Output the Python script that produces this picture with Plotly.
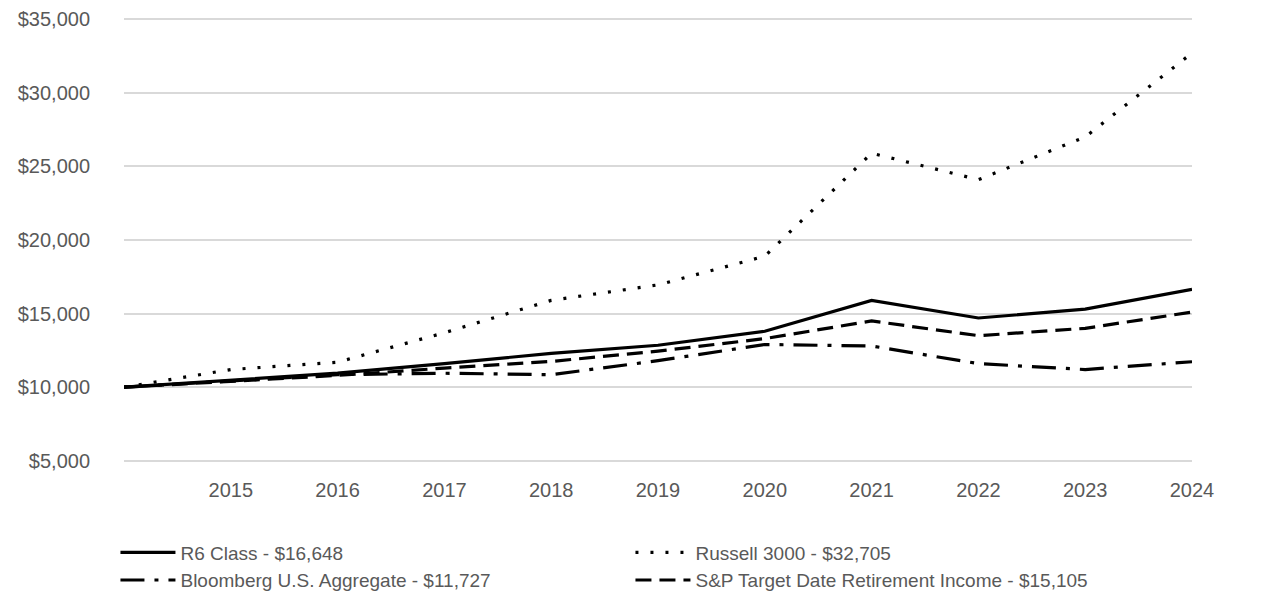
import plotly.graph_objects as go

years = [2014, 2015, 2016, 2017, 2018, 2019, 2020, 2021, 2022, 2023, 2024]
r6_class = [10000, 10450, 10950, 11600, 12300, 12850, 13800, 15900, 14700, 15300, 16648]
russell_3000 = [10000, 11200, 11700, 13700, 15900, 16950, 18900, 25900, 24100, 27000, 32705]
bloomberg_agg = [10000, 10450, 10850, 10950, 10850, 11800, 12900, 12800, 11600, 11200, 11727]
sp_target = [10000, 10400, 10800, 11300, 11750, 12450, 13300, 14500, 13500, 14000, 15105]

names = [
    "R6 Class - $16,648",
    "Russell 3000 - $32,705",
    "Bloomberg U.S. Aggregate - $11,727",
    "S&P Target Date Retirement Income - $15,105",
]
tick_years = [2015, 2016, 2017, 2018, 2019, 2020, 2021, 2022, 2023, 2024]
y_ticks = [5000, 10000, 15000, 20000, 25000, 30000, 35000]

FONT = "Liberation Sans, Arial, sans-serif"
GRAY = "#595959"

series = [
    (r6_class, "solid"),
    (russell_3000, "3px,12px"),
    (bloomberg_agg, "24px,10px,4px,10px"),
    (sp_target, "16px,8px"),
]

fig = go.Figure()
for (vals, dash), name in zip(series, names):
    fig.add_trace(go.Scatter(
        x=years, y=vals, mode="lines", name=name,
        line=dict(color="#000000", width=3.2, dash=dash),
        hoverinfo="skip", cliponaxis=False,
    ))

fig.update_layout(
    width=1286, height=614,
    margin=dict(l=116, r=102, t=9, b=159),
    paper_bgcolor="white", plot_bgcolor="white",
    font=dict(family=FONT, size=20, color=GRAY),
    showlegend=True,
    legend=dict(
        orientation="h", x=-0.008, xanchor="left", y=-0.158, yanchor="top",
        entrywidth=445, entrywidthmode="pixels", itemwidth=55,
        font=dict(family=FONT, size=19, color=GRAY),
        tracegroupgap=0,
    ),
    xaxis=dict(
        range=[2014, 2024], tickvals=tick_years, ticktext=[str(t) for t in tick_years],
        showgrid=False, zeroline=False, showline=False, ticks="",
        ticklabelstandoff=13, automargin=False,
    ),
    yaxis=dict(
        range=[4850, 35150], tickvals=y_ticks,
        ticktext=["${:,}".format(v) for v in y_ticks],
        showgrid=True, gridcolor="#d9d9d9", gridwidth=1.5,
        zeroline=False, showline=False, ticks="",
        ticklabelstandoff=33, automargin=False,
    ),
)

fig.write_html("out.html")
